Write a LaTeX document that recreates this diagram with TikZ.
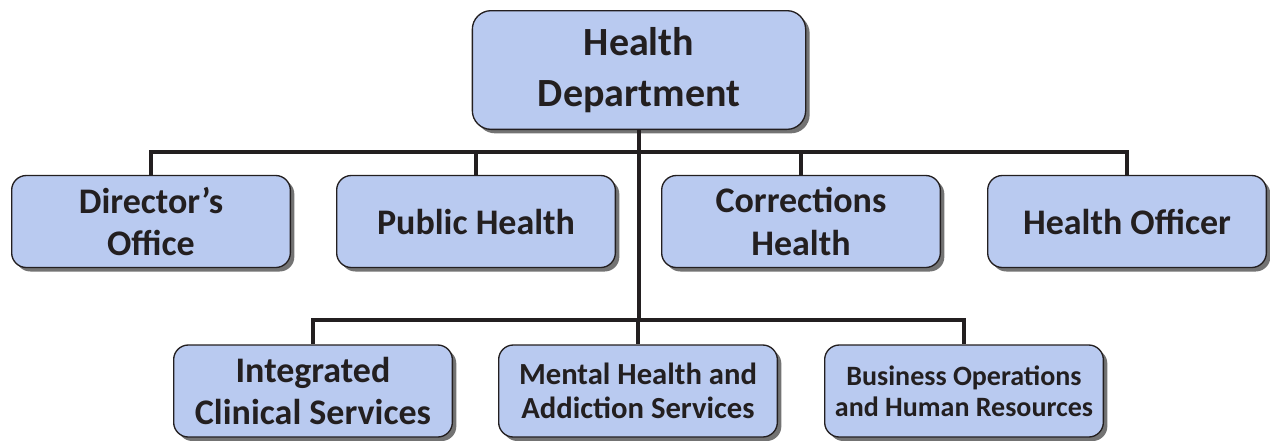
\documentclass[tikz,border=0pt]{standalone}
\usepackage{fontspec}
\setmainfont{Carlito}
\usetikzlibrary{shadows}
\definecolor{boxblue}{RGB}{185,202,240}
\definecolor{inkblack}{RGB}{35,31,32}
\begin{document}
\begin{tikzpicture}[x=0.75pt,y=-0.75pt,
		unit/.style={draw=inkblack,line width=1pt,fill=boxblue,rounded corners=11pt,
			minimum width=209pt,minimum height=69pt,align=center,text=inkblack,
			drop shadow={shadow xshift=3pt,shadow yshift=-3pt,fill=black!55,opacity=1}},
		link/.style={draw=inkblack,line width=3.6pt},
		huge/.style={font=\bfseries\fontsize{30}{38}\selectfont},
		large/.style={font=\bfseries\fontsize{27}{32}\selectfont},
		mid/.style={font=\bfseries\fontsize{23}{25}\selectfont},
		small/.style={font=\bfseries\fontsize{21}{23}\selectfont}]
		\useasboundingbox (0,0) rectangle (1270,440);
		% top
		\node [unit,huge,minimum width=250pt,minimum height=89pt,rounded corners=14pt] (top) at (639,70) {Health\\Department};
		% second row
		\node [unit,large] (dir) at (151,221.5) {Director’s\\Office};
		\node [unit,large] (pub) at (476,221.5) {Public Health};
		\node [unit,large] (cor) at (801,221.5) {Corrections\\Health};
		\node [unit,large] (off) at (1127,221.5) {Health Officer};
		% third row
		\node [unit,large] (ics) at (313,391) {Integrated\\Clinical Services};
		\node [unit,mid] (mha) at (638,391) {Mental Health and\\Addiction Services};
		\node [unit,small] (bop) at (964,391) {Business Operations\\and Human Resources};
		% links
		\coordinate (upbus) at (639,152);
		\coordinate (lowbus) at (639,320);
		\draw [link] (top.south) -- (lowbus);
		\foreach \n in {dir,pub,cor,off}
			\draw [link] (upbus) -| (\n.north);
		\foreach \n in {ics,mha,bop}
			\draw [link] (lowbus) -| (\n.north);
\end{tikzpicture}
\end{document}
